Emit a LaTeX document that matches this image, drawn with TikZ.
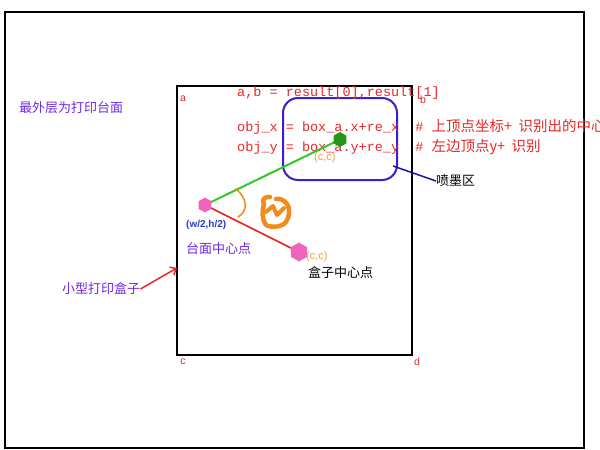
\documentclass[tikz,border=0pt]{standalone}
\usepackage{fontspec}
\setmainfont{Liberation Sans}
\setmonofont{Liberation Mono}
\newfontfamily\cjk{Noto Sans CJK SC}
\usetikzlibrary{shapes.geometric,arrows.meta}
\definecolor{codered}{RGB}{232,40,40}
\definecolor{purp}{RGB}{112,40,230}
\definecolor{boxblue}{RGB}{60,30,210}
\definecolor{lblue}{RGB}{40,60,200}
\definecolor{gline}{RGB}{50,200,40}
\definecolor{ghex}{RGB}{40,150,20}
\definecolor{pinkc}{RGB}{240,100,190}
\definecolor{orangec}{RGB}{240,140,30}
\definecolor{lorange}{RGB}{240,160,70}
\definecolor{navy}{RGB}{20,20,160}
\tikzset{
  corner/.style={text=codered, font=\fontsize{10.5}{10}\selectfont, inner sep=0pt},
  code/.style={text=codered, font=\ttfamily\fontsize{13.5}{14}\selectfont, inner sep=0pt, anchor=west},
  cnlabel/.style={font=\cjk\fontsize{13}{14}\selectfont, inner sep=0pt},
  hexa/.style={regular polygon, regular polygon sides=6, shape border rotate=30, inner sep=0pt},
}
\newcommand{\codecjk}{\cjk\fontsize{14.5}{14}\selectfont}
\begin{document}
\begin{tikzpicture}[x=1pt,y=-1pt]
\useasboundingbox (0,0) rectangle (600,450);
\fill[white] (0,0) rectangle (600,450);
% outer and inner frames
\draw[line width=2.5pt] (5,12) rectangle (584,448);
\draw[line width=2.5pt] (177,86) rectangle (412,355);
% corner letters
\node[corner] (la) at (183,99) {a};
\node[corner] (lb) at (423,100) {b};
\node[corner] (lc) at (183,362) {c};
\node[corner] (ld) at (417,362) {d};
% spray region
\node[draw=boxblue, line width=2pt, rounded corners=15pt, minimum width=114pt, minimum height=82pt, inner sep=0pt] (spray) at (340,139) {};
% code text
\node[code] (code1) at (237,93) {a,b\ =\ result[0],result[1]};
\node[code] (code2) at (237,127) {obj\_x\ =\ box\_a.x+re\_x\ \ \#\ {\codecjk 上顶点坐标+\ \ 识别出的中心}};
\node[code] (code3) at (237,147) {obj\_y\ =\ box\_a.y+re\_y\ \ \#\ {\codecjk 左边顶点y+\ \ 识别}};
% points
\coordinate (P1) at (205,205);
\coordinate (P2) at (299,252);
\coordinate (G) at (340,139.5);
\draw[gline, line width=2pt] (P1) -- (G);
\draw[codered, line width=1.6pt] (P1) -- (P2);
\node[hexa, fill=pinkc, minimum size=15pt] (hp1) at (P1) {};
\node[hexa, fill=pinkc, minimum size=19pt] (hp2) at (P2) {};
\node[hexa, fill=ghex, minimum size=15pt] (hg) at (G) {};
% orange angle mark and scribble
\draw[orangec, line width=1.5pt, line cap=round] (236,189) .. controls (248,199) and (248,211) .. (238,217);
\draw[orangec, line width=4.5pt, line cap=round, line join=round]
  (270,197) .. controls (265,196) and (261,200) .. (264,204)
  .. controls (262,212) and (262,220) .. (266,225)
  .. controls (272,228) and (282,227) .. (286,222)
  .. controls (290,216) and (290,208) .. (287,204)
  .. controls (284,200) and (280,198) .. (276,199);
\draw[orangec, line width=4pt, line cap=round, line join=round]
  (266,212) -- (273,206) -- (277,215) -- (284,208);
% labels
\node[cnlabel, text=purp, anchor=west] (outer) at (19,108) {最外层为打印台面};
\node[cnlabel, text=purp, anchor=west] (small) at (62,289) {小型打印盒子};
\node[cnlabel, text=purp, anchor=west] (center) at (186,249) {台面中心点};
\node[cnlabel, text=black, anchor=west] (boxc) at (308,273) {盒子中心点};
\node[cnlabel, text=black, anchor=west] (penmo) at (436,181) {喷墨区};
\node[text=lblue, font=\bfseries\fontsize{10}{10}\selectfont, inner sep=0pt, anchor=west] (wh) at (186,225) {(w/2,h/2)};
\node[text=lorange, font=\fontsize{11}{11}\selectfont, inner sep=0pt, anchor=west] (cc1) at (306,257) {(c,c)};
\node[text=lorange, font=\fontsize{11}{11}\selectfont, inner sep=0pt, anchor=west] (cc2) at (314,158) {(c,c)};
% connectors
\coordinate (sprayend) at (393,166);
\draw[navy, line width=1.5pt] (sprayend) -- (penmo.west);
\coordinate (boxedge) at (177,268);
\draw[codered, line width=1.5pt, -{Straight Barb[length=5pt,width=9pt]}] (small.east) -- (boxedge);
\end{tikzpicture}
\end{document}
